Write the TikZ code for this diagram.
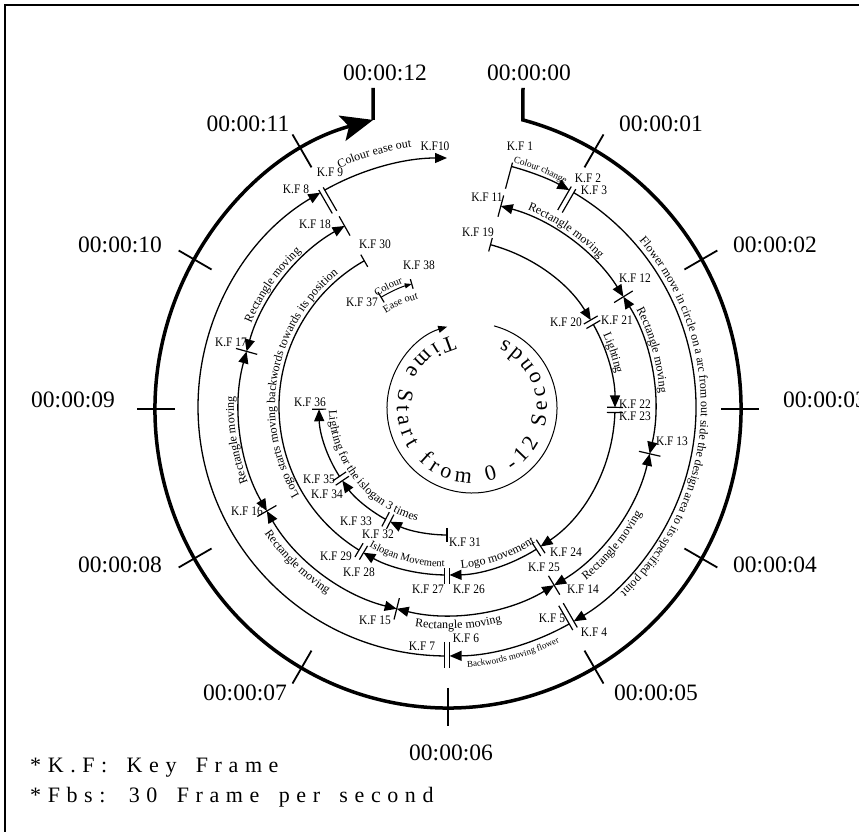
\documentclass[tikz,border=0pt]{standalone}
\usepackage{fontspec}
\setmainfont{Liberation Serif}
\newfontfamily\kffont[FakeStretch=0.88]{Liberation Serif}
\newfontfamily\legendfont[LetterSpace=30,WordSpace=1.6]{Liberation Serif}
\usetikzlibrary{arrows.meta,decorations.text,calc}
\newcommand{\KFdbar}[3]{\draw[kfbar,rotate=#1] (#2,-2.6) -- (#3,-2.6) (#2,2.6) -- (#3,2.6);}
\newcommand{\KFsbar}[3]{\draw[kfbar,rotate=#1] (#2,0) -- (#3,0);}
\newcommand{\ontext}[5]{\path[decorate,decoration={text along path,text align=center,text={|\fontsize{#4}{#4}\selectfont|#5}}] (#2:#1) arc[start angle=#2,end angle=#3,radius=#1];}
\begin{document}
\begin{tikzpicture}[x=1pt,y=1pt,
  ringline/.style={line width=1.3pt},
  arrone/.style={-{Triangle[length=12pt,width=10pt]}},
  arrtwo/.style={{Triangle[length=12pt,width=10pt]}-{Triangle[length=12pt,width=10pt]}},
  kfbar/.style={line width=1.2pt},
  kflab/.style={font={\kffont\fontsize{13}{13}\selectfont}, inner sep=0pt},
  timelab/.style={font=\fontsize{23.5}{26}\selectfont, inner sep=0pt},
  legend/.style={anchor=base west,inner sep=0pt,font={\legendfont\fontsize{22}{24}\selectfont}},
  tick/.style={line width=1.8pt}]
\useasboundingbox (0,0) rectangle (859,832);
\clip (0,0) rectangle (859,832);
\fill[white] (0,0) rectangle (859,832);
% frame
\draw[line width=2pt] (4.5,-20) -- (4.5,827) -- (880,827);
% outer time circle
\coordinate (E) at (448,423);
\coordinate (s0) at ($(E)+(75.2:293 and 299)$);
\coordinate (s12) at ($(E)+(104.8:293 and 299)$);
\coordinate (t0) at (523,744);
\coordinate (t12) at (373,744);
\draw[line width=3.5pt,-{Stealth[length=32pt,width=26pt,inset=7pt]}] (t0) -- (s0) arc[start angle=75.2,end angle=-255.2,x radius=293,y radius=299];
\draw[line width=3.5pt] (s12) -- (t12);
\foreach \a in {60,30,...,-240} \draw[tick] ($(E)+(\a:273 and 279)$) -- ($(E)+(\a:311 and 317)$);
% time labels
\node[timelab] (l00) at (529,759) {00:00:00};
\node[timelab] (l12) at (385,759) {00:00:12};
\node[timelab] (l01) at (661,708) {00:00:01};
\node[timelab] (l11) at (248,708) {00:00:11};
\node[timelab] (l02) at (775,587) {00:00:02};
\node[timelab] (l10) at (120,587) {00:00:10};
\node[timelab] (l03) at (825,432) {00:00:03};
\node[timelab] (l09) at (73,432) {00:00:09};
\node[timelab] (l04) at (775,267) {00:00:04};
\node[timelab] (l08) at (120,267) {00:00:08};
\node[timelab] (l05) at (656,139) {00:00:05};
\node[timelab] (l07) at (245,139) {00:00:07};
\node[timelab] (l06) at (451,79) {00:00:06};
% rings
\begin{scope}[shift={(447,425)}]
% ring 1
\coordinate (kf1) at (75:249);
\draw[ringline,arrone] (kf1) arc[start angle=75,end angle=60.6,radius=249];
\KFsbar{75}{226}{253}
\KFdbar{60}{226}{253}
\coordinate (kf3) at (59.4:249);
\draw[ringline,arrone] (kf3) arc[start angle=59.4,end angle=-59.4,radius=249];
\KFdbar{-60}{228}{256}
\coordinate (kf5) at (-60.6:249);
\draw[ringline,arrone] (kf5) arc[start angle=-60.6,end angle=-89.4,radius=249];
\KFdbar{-90}{235}{261}
\coordinate (kf7) at (-90.6:249);
\draw[ringline,arrone] (kf7) arc[start angle=-90.6,end angle=-239.4,radius=249];
\KFdbar{120}{225}{252}
\coordinate (kf9) at (119.4:249);
\draw[ringline,arrone] (kf9) arc[start angle=119.4,end angle=90,radius=249];
\ontext{253}{81}{56}{9.5}{Colour change}
\ontext{254}{56}{-62}{12}{Flower move in circle on a arc from out side the design area to its specified point}
\ontext{261}{-91}{-59}{9}{Backwords moving flower}
\ontext{262}{118}{94}{12}{Colour ease out}
% ring 2
\coordinate (kf11) at (75:208);
\draw[ringline,arrtwo] (kf11) arc[start angle=75,end angle=32,radius=208];
\draw[ringline,arrtwo] (32:208) arc[start angle=32,end angle=-13,radius=208];
\draw[ringline,arrtwo] (-13:208) arc[start angle=-13,end angle=-59,radius=208];
\draw[ringline,arrtwo] (-59:208) arc[start angle=-59,end angle=-104,radius=208];
\draw[ringline,arrtwo] (-104:208) arc[start angle=-104,end angle=-150,radius=208];
\draw[ringline,arrtwo] (-150:208) arc[start angle=-150,end angle=-195.5,radius=208];
\draw[ringline,arrtwo] (-195.5:208) arc[start angle=-195.5,end angle=-240.5,radius=208];
\foreach \a in {75,32,-13,-59,-104,-150,-195.5,-240.5} {\KFsbar{\a}{197}{219}}
\ontext{213}{74}{38}{12}{Rectangle moving}
\ontext{213}{33.5}{-2.5}{12}{Rectangle moving}
\ontext{222}{-58}{-22}{12}{Rectangle moving}
\ontext{222}{-105}{-69}{12}{Rectangle moving}
\ontext{222}{-152}{-116}{12}{Rectangle moving}
\ontext{213}{207}{171}{12}{Rectangle moving}
\ontext{213}{163}{127}{12}{Rectangle moving}
% ring 3
\coordinate (kf19) at (75:168);
\draw[ringline,arrone] (kf19) arc[start angle=75,end angle=31.15,radius=168];
\KFsbar{75}{161}{175}
\KFdbar{30.3}{160}{176}
\draw[ringline,arrone] (29.45:168) arc[start angle=29.45,end angle=-0.15,radius=168];
\KFdbar{-1}{160}{176}
\draw[ringline,arrone] (-1.85:168) arc[start angle=-1.85,end angle=-56.15,radius=168];
\KFdbar{-57}{160}{176}
\draw[ringline,arrone] (-57.85:168) arc[start angle=-57.85,end angle=-89.15,radius=168];
\KFdbar{-90}{161}{177}
\draw[ringline,arrone] (-90.85:168) arc[start angle=-90.85,end angle=-119.85,radius=168];
\KFdbar{-120.7}{160}{176}
\coordinate (kf29) at (-121.55:168);
\draw[ringline] (kf29) arc[start angle=-121.55,end angle=-240.5,radius=168];
\KFsbar{119.5}{161}{175}
\ontext{172}{32}{4}{12}{Lighting}
\ontext{162}{-95}{-47}{12}{Logo movement}
\ontext{160}{-125}{-85}{10.5}{Islogan Movement}
\ontext{172}{232}{108}{12}{Logo starts moving backwords towards its position}
% ring 4
\coordinate (kf31) at (-90:128);
\draw[ringline,arrone] (kf31) arc[start angle=-90,end angle=-116.4,radius=128];
\KFsbar{-90}{121}{135}
\KFdbar{-117.5}{120}{136}
\draw[ringline,arrone] (-118.6:128) arc[start angle=-118.6,end angle=-144.9,radius=128];
\KFdbar{-146}{120}{136}
\draw[ringline,arrone] (-147.1:128) arc[start angle=-147.1,end angle=-179,radius=128];
\KFsbar{181}{121}{135}
\ontext{118}{180}{257}{12}{Lighting for the islogan 3 times}
\coordinate (kf37) at (121:128);
\draw[line width=1pt,-{Triangle[length=7pt,width=5pt]}] (kf37) arc[start angle=121,end angle=106,radius=128];
\KFsbar{121}{122}{134}
\KFsbar{106}{123}{133}
\ontext{131}{126}{106}{10.5}{Colour}
\ontext{112}{126}{102}{10.5}{Ease out}
\end{scope}
% inner circle
\coordinate (C2) at (472,424);
\draw[line width=1pt,-{Triangle[length=9pt,width=7pt]}] ($(C2)+(75:85)$) arc[start angle=75,end angle=-253,radius=85];
\path[decorate,decoration={text along path,text align={fit to path},text={|\fontsize{22}{22}\selectfont|Time Start from 0 -12 Seconds}}] ($(C2)+(105:75)$) arc[start angle=105,end angle=425,radius=75];
% key frame labels
\node[kflab] (n1) at (520,686) {K.F 1};
\node[kflab] (n2) at (588,654) {K.F 2};
\node[kflab] (n3) at (594,642) {K.F 3};
\node[kflab] (n11) at (487,635) {K.F 11};
\node[kflab] (n19) at (478,600) {K.F 19};
\node[kflab] (n10) at (435,686) {K.F10};
\node[kflab] (n9) at (330,660) {K.F 9};
\node[kflab] (n8) at (296,643) {K.F 8};
\node[kflab] (n18) at (315,608) {K.F 18};
\node[kflab] (n30) at (375,588) {K.F 30};
\node[kflab] (n38) at (419,567) {K.F 38};
\node[kflab] (n37) at (362,530) {K.F 37};
\node[kflab] (n17) at (231,490) {K.F 17};
\node[kflab] (n36) at (310,430) {K.F 36};
\node[kflab] (n35) at (319,353) {K.F 35};
\node[kflab] (n34) at (327,338) {K.F 34};
\node[kflab] (n33) at (356,311) {K.F 33};
\node[kflab] (n32) at (378,298) {K.F 32};
\node[kflab] (n31) at (465,290) {K.F 31};
\node[kflab] (n29) at (336,276) {K.F 29};
\node[kflab] (n28) at (359,260) {K.F 28};
\node[kflab] (n27) at (428,243) {K.F 27};
\node[kflab] (n26) at (469,243) {K.F 26};
\node[kflab] (n25) at (544,265) {K.F 25};
\node[kflab] (n24) at (566,280) {K.F 24};
\node[kflab] (n14) at (583,243) {K.F 14};
\node[kflab] (n5) at (552,214) {K.F 5};
\node[kflab] (n4) at (594,200) {K.F 4};
\node[kflab] (n6) at (466,194) {K.F 6};
\node[kflab] (n7) at (422,186) {K.F 7};
\node[kflab] (n15) at (375,212) {K.F 15};
\node[kflab] (n16) at (247,321) {K.F 16};
\node[kflab] (n12) at (635,554) {K.F 12};
\node[kflab] (n21) at (617,512) {K.F 21};
\node[kflab] (n20) at (566,510) {K.F 20};
\node[kflab] (n22) at (635,428) {K.F 22};
\node[kflab] (n23) at (635,416) {K.F 23};
\node[kflab] (n13) at (672,391) {K.F 13};
% legend
\node[legend] (leg1) at (30,59) {*K.F: Key Frame};
\node[legend] (leg2) at (30,29) {*Fbs: 30 Frame per second};
\end{tikzpicture}
\end{document}
